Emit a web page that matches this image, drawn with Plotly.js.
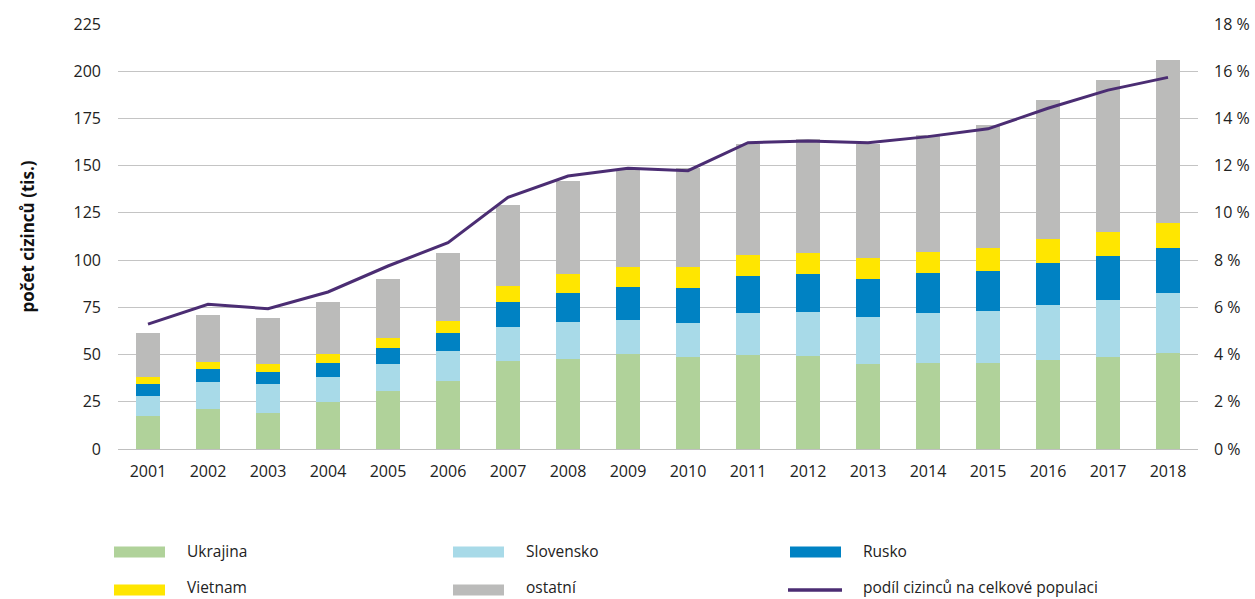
<!DOCTYPE html>
<html>
<head>
<meta charset="utf-8">
<script src="https://cdn.plot.ly/plotly-3.0.1.min.js"></script>
<style>
  html, body { margin: 0; padding: 0; background: #fff; }
  #chart { width: 1255px; height: 599px; }
</style>
</head>
<body>
<div id="chart"></div>
<script>
// roky
const years = ['2001', '2002', '2003', '2004', '2005', '2006', '2007', '2008', '2009',
  '2010', '2011', '2012', '2013', '2014', '2015', '2016', '2017', '2018'];

// počty cizinců podle státní příslušnosti (tis.)
const ukrajina  = [17.5, 21.3, 19.2, 24.9, 30.7, 35.8, 46.8, 47.5, 50.3, 48.9, 49.8, 49.2, 44.8, 45.7, 45.7, 47.1, 48.9, 51.0];
const slovensko = [10.6, 14.3, 15.4, 13.4, 14.5, 16.1, 18.0, 19.9, 18.0, 18.0, 22.4, 23.5, 25.1, 26.1, 27.5, 29.1, 30.0, 31.4];
const rusko     = [ 6.3,  6.6,  6.2,  7.2,  8.4,  9.7, 13.0, 15.3, 17.5, 18.5, 19.4, 20.1, 20.1, 21.2, 21.2, 22.4, 23.3, 24.0];
const vietnam   = [ 3.6,  3.9,  4.0,  4.6,  5.2,  6.0,  8.3,  9.8, 10.7, 10.8, 11.1, 10.8, 11.0, 11.3, 12.0, 12.4, 12.5, 13.2];
const ostatni   = [23.6, 25.0, 24.5, 27.9, 31.4, 36.0, 43.1, 49.5, 51.6, 52.4, 58.8, 60.4, 60.3, 62.1, 65.1, 73.6, 80.6, 86.3];

// podíl cizinců na celkové populaci (%)
const podil = [5.29, 6.13, 5.94, 6.65, 7.75, 8.74, 10.66, 11.56, 11.89, 11.79, 12.97, 13.05, 12.97, 13.23, 13.56, 14.43, 15.2, 15.74];

const barNames  = ['Ukrajina', 'Slovensko', 'Rusko', 'Vietnam', 'ostatní'];
const barValues = [ukrajina, slovensko, rusko, vietnam, ostatni];
const barColors = ['#B0D29A', '#A8DAE8', '#0082C3', '#FFE600', '#BBBBBA'];
const lineName  = 'podíl cizinců na celkové populaci';
const lineColor = '#4B2D73';

const font = "'Open Sans', 'Noto Sans', sans-serif";

const traces = barNames.map((name, i) => ({
  x: years,
  y: barValues[i],
  type: 'bar',
  name: name,
  marker: { color: barColors[i], line: { width: 0 } },
  showlegend: false
}));

traces.push({
  x: years,
  y: podil,
  type: 'scatter',
  mode: 'lines',
  name: lineName,
  yaxis: 'y2',
  line: { color: lineColor, width: 3 },
  showlegend: false
});

// vlastní legenda (3 sloupce, 2 řádky) - převod pixelů na paper souřadnice
const plotL = 118, plotR = 1198, plotT = 24, plotB = 449;
const px = v => (v - plotL) / (plotR - plotL);
const py = v => (plotB - v) / (plotB - plotT);

const legendItems = barNames.map((n, i) => ({ name: n, color: barColors[i], kind: 'bar' }));
legendItems.push({ name: lineName, color: lineColor, kind: 'line' });

const colX = [114, 453, 790];
const rowY = [552, 590];
const textY = [551, 587];
const shapes = [];
const annotations = [];
legendItems.forEach((item, i) => {
  const x0 = colX[i % 3];
  const row = Math.floor(i / 3);
  const yc = rowY[row];
  if (item.kind === 'bar') {
    shapes.push({
      type: 'rect', xref: 'paper', yref: 'paper',
      x0: px(x0), x1: px(x0 + 51), y0: py(yc + 5.5), y1: py(yc - 5.5),
      fillcolor: item.color, line: { width: 0 }
    });
  } else {
    shapes.push({
      type: 'line', xref: 'paper', yref: 'paper',
      x0: px(x0 - 2), x1: px(x0 + 52), y0: py(yc), y1: py(yc),
      line: { color: item.color, width: 3.5 }
    });
  }
  annotations.push({
    xref: 'paper', yref: 'paper', x: px(x0 + 72), y: py(textY[row]),
    xanchor: 'left', yanchor: 'middle', showarrow: false,
    borderpad: 0,
    text: item.name,
    font: { family: font, size: 15.5, color: '#222' }
  });
});

const layout = {
  width: 1255,
  height: 599,
  margin: { l: plotL, r: 1255 - plotR, t: plotT, b: 599 - plotB },
  paper_bgcolor: '#fff',
  plot_bgcolor: '#fff',
  barmode: 'stack',
  bargap: 0.6,
  font: { family: font, size: 16, color: '#222' },
  showlegend: false,
  xaxis: {
    type: 'category',
    showgrid: false,
    showline: true,
    linecolor: '#BFBFBF',
    linewidth: 1,
    ticks: '',
    ticklabelstandoff: 8,
    tickfont: { family: font, size: 16, color: '#222' }
  },
  yaxis: {
    range: [0, 225],
    dtick: 25,
    tick0: 0,
    showgrid: true,
    gridcolor: '#C4C4C4',
    gridwidth: 1,
    zeroline: false,
    ticks: '',
    ticklabelstandoff: 16,
    tickfont: { family: font, size: 16, color: '#222' },
    title: {
      text: '<b>počet cizinců (tis.)</b>',
      font: { family: font, size: 17, color: '#111' },
      standoff: 34
    }
  },
  yaxis2: {
    overlaying: 'y',
    side: 'right',
    range: [0, 18],
    dtick: 2,
    tick0: 0,
    ticksuffix: ' %',
    showgrid: false,
    zeroline: false,
    ticks: '',
    ticklabelstandoff: 15,
    tickfont: { family: font, size: 16, color: '#222' }
  },
  shapes: shapes,
  annotations: annotations
};

Plotly.newPlot('chart', traces, layout, { displayModeBar: false, responsive: false });
</script>
</body>
</html>
